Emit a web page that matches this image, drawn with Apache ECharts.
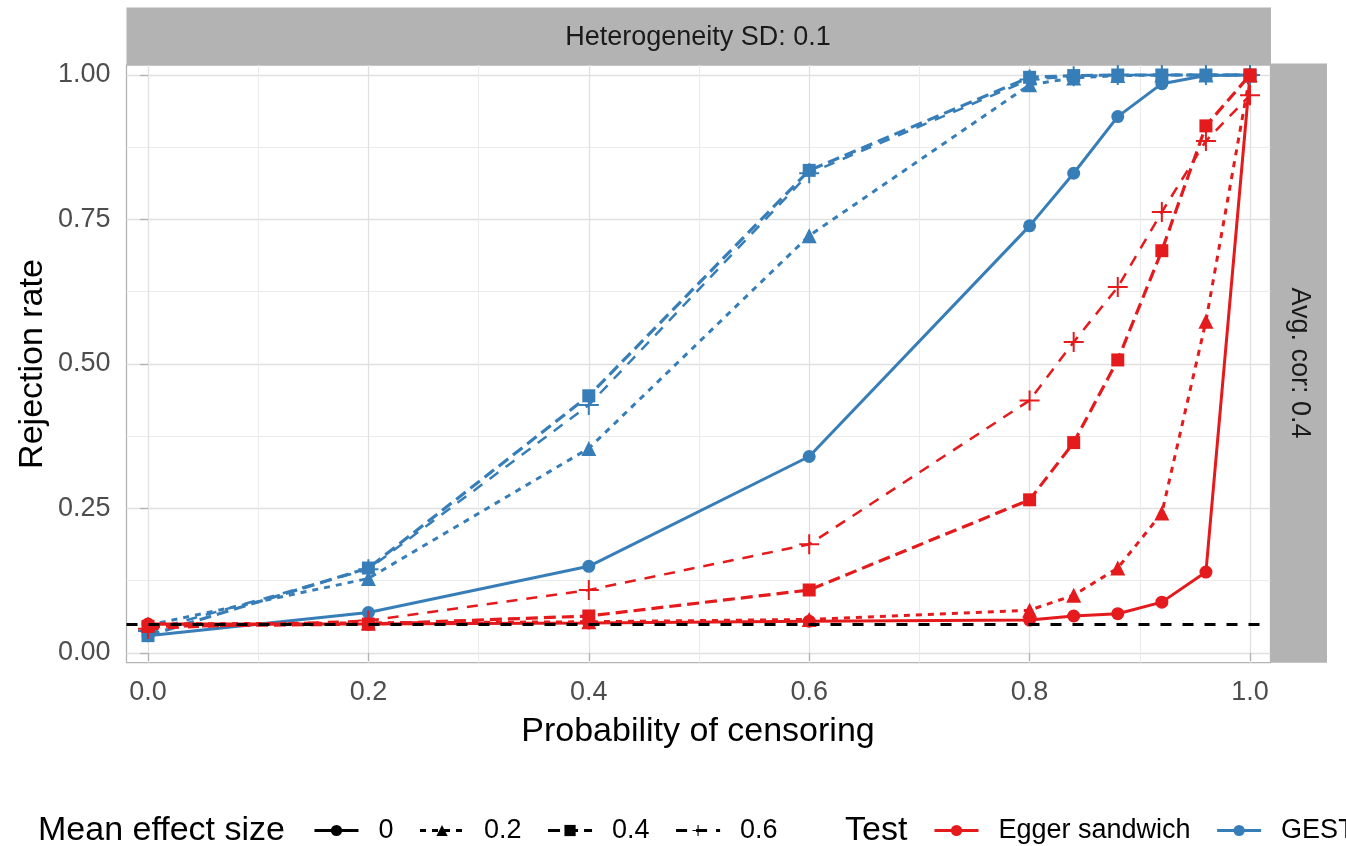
<!DOCTYPE html>
<html>
<head>
<meta charset="utf-8">
<script src="https://cdn.jsdelivr.net/npm/echarts@6/dist/echarts.min.js"></script>
<style>
html,body{margin:0;padding:0;background:#fff;}
#chart{width:1346px;height:846px;}
</style>
</head>
<body>
<div id="chart"></div>
<script>
// ---- data ----
const xValues = [0, 0.2, 0.4, 0.6, 0.8, 0.84, 0.88, 0.92, 0.96, 1.0];
const effectSizes = ['0', '0.2', '0.4', '0.6'];
const tests = ['Egger sandwich', 'GESTE'];
const egger_0  = [0.050, 0.050, 0.052, 0.055, 0.057, 0.064, 0.068, 0.088, 0.140, 1.000];
const egger_02 = [0.050, 0.052, 0.054, 0.058, 0.074, 0.100, 0.147, 0.242, 0.574, 1.000];
const egger_04 = [0.046, 0.050, 0.064, 0.109, 0.265, 0.364, 0.507, 0.696, 0.912, 1.000];
const egger_06 = [0.042, 0.056, 0.109, 0.188, 0.437, 0.538, 0.633, 0.763, 0.886, 0.965];
const geste_0  = [0.030, 0.070, 0.150, 0.340, 0.739, 0.830, 0.928, 0.985, 0.999, 1.000];
const geste_02 = [0.048, 0.129, 0.354, 0.722, 0.983, 0.995, 0.999, 1.000, 1.000, 1.000];
const geste_04 = [0.030, 0.147, 0.445, 0.835, 0.996, 0.999, 1.000, 1.000, 1.000, 1.000];
const geste_06 = [0.038, 0.145, 0.429, 0.830, 0.992, 0.998, 1.000, 1.000, 1.000, 1.000];
const nominalLevel = 0.05;
const xTicks = [0, 0.2, 0.4, 0.6, 0.8, 1.0];
const xMinor = [0.1, 0.3, 0.5, 0.7, 0.9];
const yTicks = [0, 0.25, 0.5, 0.75, 1.0];
const yMinor = [0.125, 0.375, 0.625, 0.875];
const stripTop = 'Heterogeneity SD: 0.1';
const stripRight = 'Avg. cor: 0.4';

// ---- styles ----
const FONT = "'Liberation Sans', Arial, sans-serif";
const RED = '#E41A1C', BLUE = '#377EB8';
const PLUS = 'path://M9,0H11V9H20V11H11V20H9V11H0V9H9Z';
const shapes = ['circle', 'triangle', 'rect', PLUS];
const shapeSizes = [13, 15, 13, 20];
const dashes = ['solid', [6, 6], [12, 6], [11, 9]];
const widths = [3, 3, 3.2, 2.5];

function pairs(vals) { return xValues.map((x, i) => [x, vals[i]]); }

const groups = [
  {test: tests[1], color: BLUE, vals: [geste_0, geste_02, geste_04, geste_06]},
  {test: tests[0], color: RED, vals: [egger_0, egger_02, egger_04, egger_06]}
];

const series = [];
groups.forEach(g => {
  g.vals.forEach((v, k) => {
    series.push({
      name: g.test + ' / ' + effectSizes[k],
      type: 'line',
      data: pairs(v),
      color: g.color,
      symbol: shapes[k],
      symbolSize: shapeSizes[k],
      showAllSymbol: true,
      lineStyle: {width: widths[k], type: dashes[k], cap: 'butt'},
      itemStyle: {color: g.color},
      emphasis: {disabled: true},
      silent: true,
      z: 3
    });
  });
});
// legend-only series
effectSizes.forEach((e, k) => {
  series.push({
    name: e, type: 'line', data: [], color: '#000',
    symbol: shapes[k], symbolSize: shapeSizes[k],
    lineStyle: {width: widths[k], type: dashes[k], cap: 'butt', color: '#000'},
    itemStyle: {color: '#000'}
  });
});
tests.forEach((t, i) => {
  const c = i === 0 ? RED : BLUE;
  series.push({
    name: t, type: 'line', data: [], color: c, symbol: 'circle', symbolSize: 13,
    lineStyle: {width: 3, type: 'solid', color: c}, itemStyle: {color: c}
  });
});
// reference line
series.push({
  name: 'ref', type: 'line', data: [], z: 6, silent: true,
  markLine: {
    silent: true, symbol: 'none', label: {show: false},
    lineStyle: {color: '#000', width: 3, type: [11, 11], cap: 'butt'},
    emphasis: {disabled: true},
    data: [{yAxis: nominalLevel}]
  }
});

const XMIN = -0.0195, XMAX = 1.0186, YMIN = -0.0168, YMAX = 1.0173;
const gridMajor = {show: true, lineStyle: {color: '#e0e0e0', width: 1.3}};
const gridMinor = {show: true, lineStyle: {color: '#ebebeb', width: 1}};

const chart = echarts.init(document.getElementById('chart'), null, {renderer: 'canvas'});
chart.setOption({
  animation: false,
  backgroundColor: '#fff',
  textStyle: {fontFamily: FONT},
  grid: {left: 126.5, right: 75.5, top: 65, bottom: 183.3, show: true,
         borderColor: '#b3b3b3', borderWidth: 1.3, backgroundColor: '#fff'},
  xAxis: [
    {type: 'value', min: XMIN, max: XMAX, axisLine: {show: false},
     axisTick: {show: true, length: 8, customValues: xTicks, lineStyle: {color: '#b3b3b3', width: 1.3}},
     axisLabel: {customValues: xTicks, formatter: v => v.toFixed(1), margin: 16,
                 fontSize: 27, color: '#4d4d4d', fontFamily: FONT},
     splitLine: gridMajor},
    {type: 'value', min: XMIN, max: XMAX, axisLine: {show: false},
     axisTick: {show: false, customValues: xMinor},
     axisLabel: {show: false, customValues: xMinor},
     splitLine: gridMinor}
  ],
  yAxis: [
    {type: 'value', min: YMIN, max: YMAX, axisLine: {show: false},
     axisTick: {show: true, length: 8, customValues: yTicks, lineStyle: {color: '#b3b3b3', width: 1.3}},
     axisLabel: {customValues: yTicks, formatter: v => v.toFixed(2), margin: 16,
                 fontSize: 27, color: '#4d4d4d', fontFamily: FONT, padding: [4, 0, 0, 0]},
     splitLine: gridMajor},
    {type: 'value', min: YMIN, max: YMAX, axisLine: {show: false},
     axisTick: {show: false, customValues: yMinor},
     axisLabel: {show: false, customValues: yMinor},
     splitLine: gridMinor}
  ],
  legend: [
    {data: effectSizes, left: 313, top: 817, width: 500, orient: 'horizontal', padding: 0,
     itemWidth: 44, itemHeight: 14, itemGap: 25, selectedMode: false,
     lineStyle: {width: 3},
     textStyle: {fontSize: 27, color: '#000', fontFamily: FONT, padding: [0, 0, 0, 15]}},
    {data: tests, left: 933, top: 817, width: 600, orient: 'horizontal', padding: 0,
     itemWidth: 44, itemHeight: 14, itemGap: 25, selectedMode: false,
     lineStyle: {width: 3},
     textStyle: {fontSize: 27, color: '#000', fontFamily: FONT, padding: [0, 0, 0, 15]}}
  ],
  graphic: [
    {type: 'rect', shape: {x: 126.5, y: 7.5, width: 1144.5, height: 57.5}, style: {fill: '#b3b3b3'}, z: 10},
    {type: 'rect', shape: {x: 1271, y: 63.5, width: 56, height: 599.2}, style: {fill: '#b3b3b3'}, z: 10},
    {type: 'text', x: 698, y: 38, z: 11, style: {text: stripTop, font: '27px ' + FONT, fill: '#1a1a1a', textAlign: 'center', textVerticalAlign: 'middle'}},
    {type: 'text', x: 1299, y: 363, rotation: -Math.PI / 2, z: 11, style: {text: stripRight, font: '27px ' + FONT, fill: '#1a1a1a', textAlign: 'center', textVerticalAlign: 'middle'}},
    {type: 'text', x: 33, y: 364, rotation: Math.PI / 2, z: 11, style: {text: 'Rejection rate', font: '34px ' + FONT, fill: '#000', textAlign: 'center', textVerticalAlign: 'middle'}},
    {type: 'text', x: 698, y: 732, z: 11, style: {text: 'Probability of censoring', font: '34px ' + FONT, fill: '#000', textAlign: 'center', textVerticalAlign: 'middle'}},
    {type: 'text', x: 38, y: 831, z: 11, style: {text: 'Mean effect size', font: '34px ' + FONT, fill: '#000', textAlign: 'left', textVerticalAlign: 'middle'}},
    {type: 'text', x: 845, y: 831, z: 11, style: {text: 'Test', font: '34px ' + FONT, fill: '#000', textAlign: 'left', textVerticalAlign: 'middle'}}
  ],
  series: series
});
</script>
</body>
</html>
